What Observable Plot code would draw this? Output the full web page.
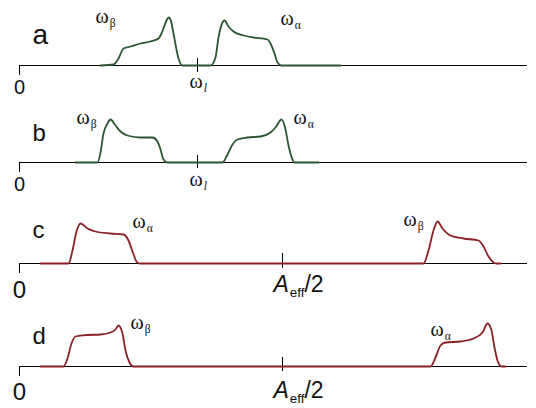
<!DOCTYPE html>
<html>
<head>
<meta charset="utf-8">
<script src="https://cdn.jsdelivr.net/npm/d3@7"></script>
<script src="https://cdn.jsdelivr.net/npm/@observablehq/plot@0.6"></script>
<style>
  html, body { margin: 0; padding: 0; background: #fff; }
  #chart { width: 536px; }
  #chart svg { display: block; }
</style>
</head>
<body>
<div id="chart"></div>
<script>
// ---------- data (frequency in arbitrary units, intensity in arbitrary units) ----------
const panelNames = ["a", "b", "c", "d"];

const freqA = [81, 94, 99, 104, 111, 121, 131, 139, 144, 147, 149, 151, 154, 159, 163,
               191, 196, 199, 203, 205, 209, 214, 224, 234, 248, 251, 255, 258, 262, 321];
const intA  = [0, 1, 7, 17, 19, 22, 24, 27, 37, 45, 48, 46, 32, 7, 0,
               0, 8, 28, 43, 45, 39, 34, 30, 28, 26, 22, 12, 3, 0, 0];

const freqB = [56, 78, 81, 84, 88, 91, 96, 101, 108, 121, 133, 138, 141, 144, 148,
               203, 208, 213, 218, 228, 241, 251, 256, 262, 266, 269, 273, 275, 299];
const intB  = [0, 0, 10, 29, 39, 43, 37, 31, 27, 25, 25, 21, 13, 3, 0,
               0, 8, 18, 23, 25, 26, 30, 35, 43, 33, 17, 3, 0, 0];

const freqC = [21, 49, 53, 57, 61, 68, 76, 91, 104, 109, 113, 117, 120,
               404, 409, 414, 418, 423, 431, 444, 459, 464, 469, 474, 477, 481];
const intC  = [0, 0, 13, 32, 40, 35, 32, 30, 29, 23, 12, 2, 0,
               0, 13, 33, 42, 35, 28, 25, 23, 17, 7, 1, 0, 0];

const freqD = [21, 44, 48, 52, 56, 68, 81, 91, 96, 99, 103, 106, 110, 114,
               411, 416, 421, 426, 441, 454, 463, 468, 472, 475, 478, 482, 486];
const intD  = [0, 0, 8, 23, 30, 31.5, 32, 34, 37, 41, 33, 16, 4, 0,
               0, 9, 21, 24, 25, 28, 34, 43, 36, 19, 6, 0, 0];

const centerFreq   = [178, 178, 263, 263];
const centerLabels = ["ω|l", "ω|l", "A|eff|/2", "A|eff|/2"];
const zeroLabel    = "0";

const peakLabelText = [["ω|β", "ω|α"], ["ω|β", "ω|α"], ["ω|α", "ω|β"], ["ω|β", "ω|α"]];
const peakLabelFreq = [[76, 261], [57, 274], [113, 384], [111, 411]];
const peakLabelInt  = [[43, 41], [39, 39], [36, 38], [38, 31]];

// ---------- drawing ----------
const freqs = [freqA, freqB, freqC, freqD];
const ints  = [intA, intB, intC, intD];
const colors = ["#2b5634", "#2b5634", "#8c2027", "#8c2027"];
const heights = [97, 101, 103, 107];
const nameFont = [28, 24, 24, 24];
const nameY = [22, 22, 26, 23];
const zeroFont = [20, 20, 24, 24];
const zeroY = [-28, -28, -34, -33];
const centerY = [-22, -23, -28, -31];
const centerFont = [20, 20, 23, 23];
const tickUp = [7, 7, 10, 9];
const tickDown = [-7, -6, -5, -5];
const serif = "Liberation Serif, Times New Roman, serif";
const sans = "Liberation Sans, Arial, sans-serif";

const chart = document.getElementById("chart");

panelNames.forEach((name, i) => {
  const H = heights[i];
  const curve = freqs[i].map((f, k) => ({f, v: ints[i][k]}));
  const peaks = peakLabelText[i].map((t, k) => ({t, f: peakLabelFreq[i][k], v: peakLabelInt[i][k]}));
  const svg = Plot.plot({
    width: 536,
    height: H,
    marginLeft: 19,
    marginRight: 9,
    marginTop: 15,
    marginBottom: H - 65,
    x: {domain: [0, 508], axis: null},
    y: {domain: [0, 50], axis: null},
    marks: [
      Plot.ruleY([0], {stroke: "#000", strokeWidth: 1}),
      Plot.ruleX([0], {y1: 0, y2: -10, stroke: "#000", strokeWidth: 1}),
      Plot.ruleX([centerFreq[i]], {y1: tickDown[i], y2: tickUp[i], stroke: "#000", strokeWidth: 1}),
      Plot.line(curve, {x: "f", y: "v", stroke: colors[i], strokeWidth: 1.8, curve: "monotone-x"}),
      Plot.text([name], {x: 13, y: nameY[i], text: d => d, textAnchor: "start", lineAnchor: "bottom",
        fontSize: nameFont[i], fontFamily: sans, fill: "#111"}),
      Plot.text([zeroLabel], {x: 0, y: zeroY[i], text: d => d, textAnchor: "middle", lineAnchor: "bottom",
        fontSize: zeroFont[i], fontFamily: sans, fill: "#111"}),
      Plot.text([centerLabels[i]], {x: i >= 2 ? 254 : 170, y: centerY[i], text: d => d, textAnchor: "start", lineAnchor: "bottom",
        fontSize: centerFont[i], fontFamily: i >= 2 ? sans : serif, fill: "#111"}),
      Plot.text(peaks, {x: "f", y: "v", text: "t", textAnchor: "start", lineAnchor: "bottom",
        fontSize: 20, fontFamily: serif, fill: "#111"})
    ]
  });
  chart.appendChild(svg);

  // rich text: main|subscript|rest
  const NS = "http://www.w3.org/2000/svg";
  svg.querySelectorAll("text").forEach(t => {
    const s = t.textContent;
    if (!s.includes("|")) return;
    const fs = parseFloat(getComputedStyle(t).fontSize) || 18;
    const parts = s.split("|");
    t.textContent = "";
    const main = document.createElementNS(NS, "tspan");
    main.textContent = parts[0];
    if (parts[0] === "A") main.setAttribute("font-style", "italic");
    t.appendChild(main);
    const sub = document.createElementNS(NS, "tspan");
    sub.textContent = parts[1];
    sub.setAttribute("font-size", (fs * 0.58).toFixed(1));
    sub.setAttribute("dy", (fs * 0.22).toFixed(1));
    sub.setAttribute("dx", "1");
    if (parts[1] === "l") sub.setAttribute("font-style", "italic");
    t.appendChild(sub);
    if (parts[2]) {
      const rest = document.createElementNS(NS, "tspan");
      rest.textContent = parts[2];
      rest.setAttribute("font-size", fs.toFixed(1));
      rest.setAttribute("dy", (-fs * 0.22).toFixed(1));
      t.appendChild(rest);
    }
  });
});
</script>
</body>
</html>
